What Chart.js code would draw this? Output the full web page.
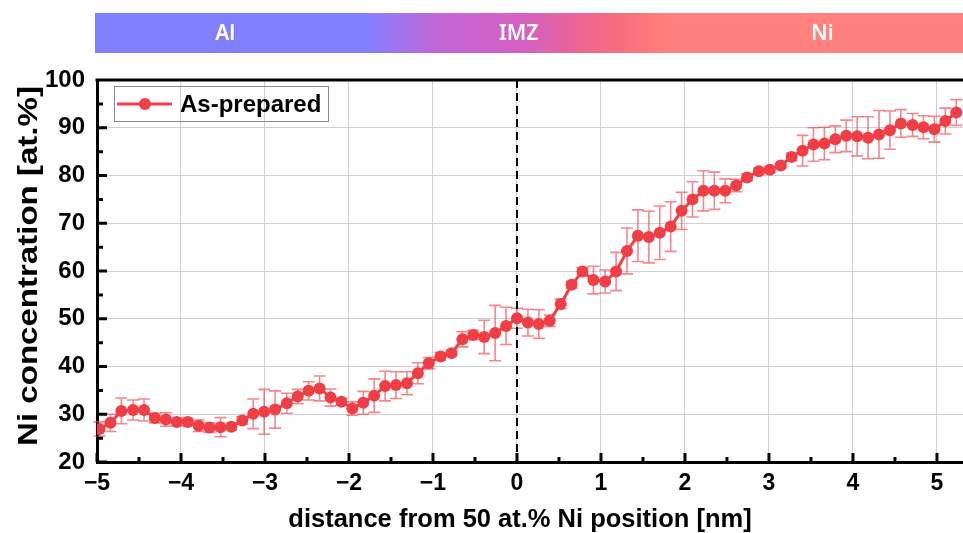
<!DOCTYPE html>
<html>
<head>
<meta charset="utf-8">
<script src="https://cdn.jsdelivr.net/npm/chart.js@4.4.1/dist/chart.umd.min.js"></script>
<style>
  html, body { margin: 0; padding: 0; background: #fff; }
  #wrap { position: relative; width: 963px; height: 533px; }
</style>
</head>
<body>
<div id="wrap"><canvas id="profile" width="963" height="533"></canvas></div>
<script>
// concentration profile across the interface, 50 at.% Ni crossing at x = 0
const distance = [
  -4.97, -4.84, -4.71, -4.57, -4.44, -4.31, -4.18, -4.05, -3.92, -3.79,
  -3.66, -3.53, -3.40, -3.27, -3.14, -3.01, -2.88, -2.74, -2.61, -2.48,
  -2.35, -2.22, -2.09, -1.96, -1.83, -1.70, -1.57, -1.44, -1.31, -1.18,
  -1.05, -0.91, -0.78, -0.65, -0.52, -0.39, -0.26, -0.13, 0.00, 0.13,
  0.26, 0.39, 0.52, 0.65, 0.78, 0.91, 1.05, 1.18, 1.31, 1.44,
  1.57, 1.70, 1.83, 1.96, 2.09, 2.22, 2.35, 2.48, 2.61, 2.74,
  2.88, 3.01, 3.14, 3.27, 3.40, 3.53, 3.66, 3.79, 3.92, 4.05,
  4.18, 4.31, 4.44, 4.57, 4.71, 4.84, 4.97, 5.10, 5.23
];
const niConc = [
  26.9, 28.2, 30.7, 30.9, 30.9, 29.2, 28.9, 28.4, 28.4, 27.6,
  27.2, 27.3, 27.4, 28.7, 30.1, 30.5, 31.0, 32.3, 33.7, 34.9,
  35.4, 33.5, 32.6, 31.2, 32.4, 33.9, 35.9, 36.1, 36.5, 38.6,
  40.7, 42.1, 42.8, 45.7, 46.6, 46.2, 47.0, 48.5, 50.1, 49.2,
  48.9, 49.6, 53.1, 57.1, 59.9, 58.1, 57.8, 59.9, 64.2, 67.4,
  67.1, 68.0, 69.3, 72.6, 75.0, 76.8, 76.8, 76.8, 77.9, 79.6,
  80.9, 81.2, 82.1, 83.9, 85.2, 86.5, 86.7, 87.6, 88.3, 88.2,
  87.9, 88.6, 89.5, 90.9, 90.6, 90.1, 89.7, 91.4, 93.2
];
const niErr = [
  1.5, 1.8, 2.7, 2.1, 2.3, 1.0, 1.4, 0.8, 0.8, 1.2,
  1.0, 2.0, 0.7, 0.8, 3.1, 4.7, 3.9, 2.1, 1.5, 1.9,
  2.6, 1.8, 0.7, 1.4, 2.4, 3.5, 3.1, 2.8, 2.4, 2.2,
  1.2, 0.8, 0.6, 1.6, 1.0, 3.5, 5.8, 3.9, 2.1, 2.8,
  3.0, 1.2, 1.0, 0.7, 0.8, 2.9, 2.4, 4.0, 4.8, 5.4,
  5.4, 5.6, 5.2, 3.9, 3.7, 4.2, 3.9, 2.5, 1.3, 0.7,
  0.6, 0.6, 0.5, 0.8, 3.2, 3.5, 3.4, 2.8, 3.3, 4.1,
  4.4, 5.0, 4.0, 2.9, 2.4, 2.4, 2.7, 2.7, 2.7
];
const seriesLabel = 'As-prepared';
const xTitle = 'distance from 50 at.% Ni position [nm]';
const yTitle = 'Ni concentration [at.%]';
const zoneLabels = ['Al', 'IMZ', 'Ni'];
const zonePos = [0.15, 0.488, 0.838];   // label centres along the band
const refLine = 0;                      // 50 at.% Ni position

const RED = '#EF3E46';
const ERR = 'rgba(239, 62, 70, 0.62)';
const GRID = '#cfcfcf';
const FONT = '"Liberation Sans", Arial, sans-serif';

const fmt = v => (v < 0 ? '\u2212' + Math.abs(v) : String(v));

// coloured Al / IMZ / Ni band above the plot
const zoneBand = {
  id: 'zoneBand',
  beforeDraw(chart) {
    const {ctx, chartArea: a} = chart;
    const x0 = a.left - 2, w = chart.width - x0, y0 = 13, h = 40;
    const g = ctx.createLinearGradient(x0, 0, x0 + w, 0);
    g.addColorStop(0, '#8080FF');
    g.addColorStop(0.31, '#8080FF');
    g.addColorStop(0.40, '#C466D6');
    g.addColorStop(0.50, '#D760BF');
    g.addColorStop(0.56, '#EC6690');
    g.addColorStop(0.605, '#F86E7E');
    g.addColorStop(0.66, '#FF807C');
    g.addColorStop(1, '#FF807C');
    ctx.save();
    ctx.fillStyle = g;
    ctx.fillRect(x0, y0, w, h);
    ctx.fillStyle = '#fff';
    ctx.font = '600 21px "Noto Sans", sans-serif';
    ctx.textAlign = 'center';
    ctx.textBaseline = 'middle';
    zoneLabels.forEach((t, i) => ctx.fillText(t, x0 + w * zonePos[i], y0 + h / 2 + 1));
    ctx.restore();
  }
};

// error bars, dashed reference line, inward ticks, titles and legend
const decorations = {
  id: 'decorations',
  beforeDatasetsDraw(chart) {
    const {ctx, chartArea: a, scales: {x, y}} = chart;
    ctx.save();
    ctx.strokeStyle = ERR;
    ctx.lineWidth = 1.6;
    distance.forEach((d, i) => {
      const px = x.getPixelForValue(d);
      const hi = y.getPixelForValue(niConc[i] + niErr[i]);
      const lo = y.getPixelForValue(niConc[i] - niErr[i]);
      ctx.beginPath();
      ctx.moveTo(px, hi); ctx.lineTo(px, lo);
      ctx.moveTo(px - 6, hi); ctx.lineTo(px + 6, hi);
      ctx.moveTo(px - 6, lo); ctx.lineTo(px + 6, lo);
      ctx.stroke();
    });

    const zx = x.getPixelForValue(refLine);
    ctx.strokeStyle = '#000';
    ctx.lineWidth = 2;
    ctx.setLineDash([8, 5]);
    ctx.beginPath();
    ctx.moveTo(zx, a.top); ctx.lineTo(zx, a.bottom);
    ctx.stroke();
    ctx.setLineDash([]);
    ctx.restore();
  },
  afterDraw(chart) {
    const {ctx, chartArea: a, scales: {x, y}} = chart;
    ctx.save();
    ctx.strokeStyle = '#000';
    ctx.lineWidth = 3;
    ctx.beginPath();
    ctx.moveTo(a.left - 1.5, a.top); ctx.lineTo(a.right, a.top);
    x.ticks.forEach(t => {
      const px = x.getPixelForValue(t.value);
      const len = Number.isInteger(t.value) ? 9 : 5;
      ctx.moveTo(px, a.bottom); ctx.lineTo(px, a.bottom - len);
    });
    y.ticks.forEach(t => {
      const py = y.getPixelForValue(t.value);
      const len = t.value % 10 === 0 ? 10 : 6;
      ctx.moveTo(a.left, py); ctx.lineTo(a.left + len, py);
    });
    ctx.stroke();

    // axis titles
    ctx.fillStyle = '#000';
    ctx.textAlign = 'center';
    ctx.textBaseline = 'alphabetic';
    ctx.font = 'bold 25.5px ' + FONT;
    ctx.fillText(xTitle, (a.left + a.right) / 2 - 10, 527);
    ctx.save();
    ctx.translate(37, (a.top + a.bottom) / 2 - 5);
    ctx.rotate(-Math.PI / 2);
    ctx.scale(1.18, 1);
    ctx.font = 'bold 28px ' + FONT;
    ctx.fillText(yTitle, 0, 0);
    ctx.restore();

    // legend box
    const lx = a.left + 17, ly = a.top + 6;
    ctx.lineWidth = 1;
    ctx.strokeStyle = '#8a8a8a';
    ctx.strokeRect(lx + 0.5, ly + 0.5, 214, 35);
    ctx.strokeStyle = RED;
    ctx.lineWidth = 3;
    ctx.beginPath();
    ctx.moveTo(lx + 3, ly + 18); ctx.lineTo(lx + 58, ly + 18);
    ctx.stroke();
    ctx.fillStyle = RED;
    ctx.beginPath();
    ctx.arc(lx + 31, ly + 18, 6, 0, Math.PI * 2);
    ctx.fill();
    ctx.fillStyle = '#000';
    ctx.textAlign = 'left';
    ctx.font = 'bold 24px ' + FONT;
    ctx.textBaseline = 'middle';
    ctx.fillText(seriesLabel, lx + 66, ly + 19);
    ctx.restore();
  }
};

new Chart(document.getElementById('profile'), {
  type: 'scatter',
  data: {
    datasets: [{
      label: seriesLabel,
      data: distance.map((d, i) => ({x: d, y: niConc[i]})),
      showLine: true,
      borderColor: RED,
      backgroundColor: RED,
      borderWidth: 3,
      pointRadius: 6,
      pointBorderWidth: 0,
      tension: 0
    }]
  },
  options: {
    responsive: false,
    animation: false,
    layout: {autoPadding: false, padding: {top: 80, right: 0, left: 0, bottom: 0}},
    plugins: {
      legend: {display: false},
      tooltip: {enabled: false}
    },
    scales: {
      x: {
        type: 'linear',
        min: -5,
        max: 5.31,
        border: {display: true, color: '#000', width: 3},
        grid: {
          drawTicks: false,
          lineWidth: 1,
          color: c => (c.tick && Number.isInteger(c.tick.value) ? GRID : 'rgba(0,0,0,0)')
        },
        ticks: {
          stepSize: 0.5,
          includeBounds: false,
          autoSkip: false,
          maxRotation: 0,
          padding: 8,
          color: '#000',
          font: {family: FONT, size: 23, weight: 'bold'},
          callback: v => (Number.isInteger(v) ? fmt(v) : '')
        },
        afterFit: s => { s.height = 71; s.paddingLeft = 0; s.paddingRight = 0; }
      },
      y: {
        type: 'linear',
        min: 20,
        max: 100,
        border: {display: true, color: '#000', width: 3},
        grid: {
          drawTicks: false,
          lineWidth: 1,
          color: c => (c.tick && c.tick.value % 10 === 0 ? GRID : 'rgba(0,0,0,0)')
        },
        ticks: {
          stepSize: 5,
          autoSkip: false,
          padding: 12,
          color: '#000',
          font: {family: FONT, size: 24, weight: 'bold'},
          callback: v => (v % 10 === 0 ? v : '')
        },
        afterFit: s => { s.width = 97; s.paddingTop = 0; s.paddingBottom = 0; }
      }
    }
  },
  plugins: [zoneBand, decorations]
});
</script>
</body>
</html>
